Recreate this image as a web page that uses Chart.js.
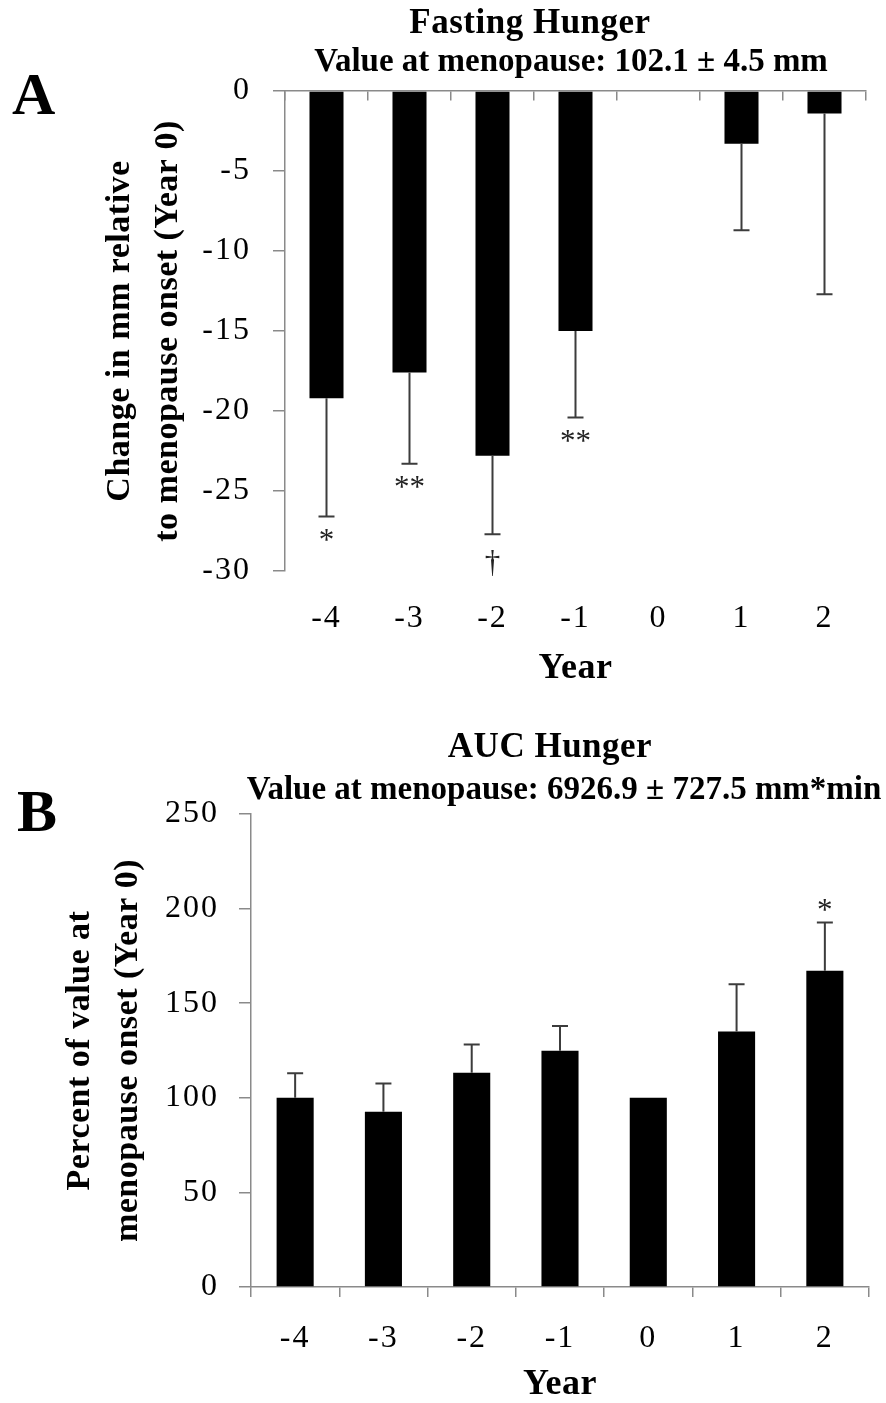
<!DOCTYPE html>
<html>
<head>
<meta charset="utf-8">
<title>Fasting Hunger / AUC Hunger</title>
<script src="https://cdn.jsdelivr.net/npm/chart.js@4.4.1/dist/chart.umd.min.js"></script>
<style>
    body { margin: 0; background: #fff; }
    #pagina { position: relative; width: 886px; height: 1403px; font-family: "Liberation Serif", "Times New Roman", serif; color: #000; }
    #pagina canvas { position: absolute; left: 0; }
    .texto { position: absolute; white-space: nowrap; font-weight: bold; }
    .titulo { font-size: 35px; line-height: 35px; letter-spacing: .5px; transform: translateX(-50%); }
    .subtitulo { font-size: 33px; line-height: 33px; transform: translateX(-50%); }
    .letra { font-size: 60px; line-height: 60px; }
</style>
</head>
<body>
<div id="pagina">
    <canvas id="graficaA" width="886" height="700" style="top:0"></canvas>
    <canvas id="graficaB" width="886" height="703" style="top:700px"></canvas>

    <div class="texto letra" style="left:12px; top:64px">A</div>
    <div class="texto titulo" style="left:530px; top:4px">Fasting Hunger</div>
    <div class="texto subtitulo" style="left:571px; top:44px">Value at menopause: 102.1 ± 4.5 mm</div>

    <div class="texto letra" style="left:17px; top:781px">B</div>
    <div class="texto titulo" style="left:550px; top:728px">AUC Hunger</div>
    <div class="texto subtitulo" style="left:564px; top:772px">Value at menopause: 6926.9 ± 727.5 mm*min</div>
</div>

<script>
/* 1. DATOS */
const years = ['-4', '-3', '-2', '-1', '0', '1', '2'];

// A: cambio en mm respecto al inicio de la menopausia
const hambreAyuno = [-19.2, -17.6, -22.8, -15.0, 0, -3.3, -1.4];
const errorAyuno = [7.4, 5.7, 4.9, 5.4, 0, 5.4, 11.3];
const marcasAyuno = ['*', '**', '†', '**', '', '', ''];
const ejeA = { min: -30, max: 0, paso: 5 };

// B: porcentaje del valor en el año 0
const hambreAUC = [100, 92.6, 113.2, 124.9, 100, 135, 167.2];
const errorAUC = [13, 15, 15, 13, 0, 25, 25.4];
const marcasAUC = ['', '', '', '', '', '', '*'];
const ejeB = { min: 0, max: 250, paso: 50 };

/* 2. ESTILOS COMUNES */
const FAMILIA = '"Liberation Serif", "Times New Roman", serif';
const GRIS = '#8a8a8a';
const fuenteTicks = { family: FAMILIA, size: 32, lineHeight: 1.2 };
const fuenteEje = { family: FAMILIA, size: 34, weight: 'bold', lineHeight: 1.41 };

// títulos de eje casi sin espaciado; los números del eje algo más abiertos
// (las etiquetas se pintan después de las barras porque ticks.z = 1)
const espaciado = {
    id: 'espaciado',
    beforeDraw(chart) { chart.ctx.letterSpacing = '0.5px'; },
    beforeDatasetsDraw(chart) { chart.ctx.letterSpacing = '0px'; },
    afterDatasetsDraw(chart) { chart.ctx.letterSpacing = '2px'; },
    afterDraw(chart) { chart.ctx.letterSpacing = '0px'; }
};

/* 3. BARRAS DE ERROR Y MARCAS DE SIGNIFICANCIA */
function barrasDeError(valores, errores, sentido, marcas) {
    return {
        id: 'barrasDeError',
        afterDatasetsDraw(chart) {
            const ctx = chart.ctx;
            const escalaY = chart.scales.y;
            const barras = chart.getDatasetMeta(0).data;
            ctx.save();
            ctx.letterSpacing = '0px';
            ctx.strokeStyle = '#3c3c3c';
            ctx.lineWidth = 2;
            ctx.fillStyle = '#222';
            ctx.font = '31px ' + FAMILIA;
            ctx.textAlign = 'center';
            barras.forEach((barra, i) => {
                const y0 = escalaY.getPixelForValue(valores[i]);
                const y1 = escalaY.getPixelForValue(valores[i] + sentido * errores[i]);
                if (errores[i] > 0) {
                    ctx.beginPath();
                    ctx.moveTo(barra.x, y0);
                    ctx.lineTo(barra.x, y1);
                    ctx.moveTo(barra.x - 8, y1);
                    ctx.lineTo(barra.x + 8, y1);
                    ctx.stroke();
                }
                if (marcas[i]) {
                    if (sentido < 0) {
                        ctx.textBaseline = 'top';
                        ctx.fillText(marcas[i], barra.x, y1 + (marcas[i] === '†' ? 14 : 10));
                    } else {
                        ctx.textBaseline = 'alphabetic';
                        ctx.fillText(marcas[i], barra.x, y1 - 3);
                    }
                }
            });
            ctx.restore();
        }
    };
}

/* 4. GRÁFICA A: eje de categorías pegado al 0, etiquetas abajo */
new Chart(document.getElementById('graficaA'), {
    type: 'bar',
    data: {
        labels: years,
        datasets: [{
            data: hambreAyuno,
            backgroundColor: '#000',
            borderWidth: 0,
            barPercentage: 0.41,
            categoryPercentage: 1,
            xAxisID: 'x',
            yAxisID: 'y'
        }]
    },
    options: {
        responsive: false,
        animation: false,
        layout: { padding: { top: 91, right: 20, bottom: 0, left: 0 } },
        plugins: { legend: { display: false }, tooltip: { enabled: false } },
        scales: {
            x: {
                type: 'category', axis: 'x', position: { y: 0 }, offset: true,
                grid: { offset: true, drawOnChartArea: false, drawTicks: true, tickLength: 9, color: GRIS, lineWidth: 1.5 },
                border: { display: true, color: GRIS, width: 1.5 },
                ticks: { display: false }
            },
            x2: {
                type: 'category', axis: 'x', position: 'bottom', offset: true,
                grid: { display: false, drawTicks: false },
                border: { display: false },
                ticks: { font: fuenteTicks, color: '#000', padding: 28, maxRotation: 0, autoSkip: false, z: 1 },
                title: { display: true, text: 'Year', color: '#000', font: { family: FAMILIA, size: 36, weight: 'bold', lineHeight: 1.2 }, padding: { top: 0, bottom: 10 } },
                afterFit: s => { s.height = 129; }
            },
            y: {
                position: 'left', min: ejeA.min, max: ejeA.max,
                ticks: { stepSize: ejeA.paso, font: fuenteTicks, color: '#000', padding: 22, z: 1 },
                grid: { drawOnChartArea: false, drawTicks: true, tickLength: 12, color: GRIS, lineWidth: 1.5 },
                border: { display: true, color: GRIS, width: 1.5 },
                title: { display: true, text: ['Change in mm relative', 'to menopause onset (Year 0)'], color: '#000', font: fuenteEje, padding: { top: 96, bottom: 0 } },
                afterFit: s => { s.width = 285; }
            }
        }
    },
    plugins: [espaciado, barrasDeError(hambreAyuno, errorAyuno, -1, marcasAyuno)]
});

/* 5. GRÁFICA B */
new Chart(document.getElementById('graficaB'), {
    type: 'bar',
    data: {
        labels: years,
        datasets: [{
            data: hambreAUC,
            backgroundColor: '#000',
            borderWidth: 0,
            barPercentage: 0.42,
            categoryPercentage: 1,
            xAxisID: 'x',
            yAxisID: 'y'
        }]
    },
    options: {
        responsive: false,
        animation: false,
        layout: { padding: { top: 114, right: 17, bottom: 0, left: 0 } },
        plugins: { legend: { display: false }, tooltip: { enabled: false } },
        scales: {
            x: {
                type: 'category', axis: 'x', position: 'bottom', offset: true,
                grid: { offset: true, drawOnChartArea: false, drawTicks: true, tickLength: 10, color: GRIS, lineWidth: 1.5 },
                border: { display: true, color: GRIS, width: 1.5 },
                ticks: { font: fuenteTicks, color: '#000', padding: 22, maxRotation: 0, autoSkip: false, z: 1 },
                title: { display: true, text: 'Year', color: '#000', font: { family: FAMILIA, size: 36, weight: 'bold', lineHeight: 1 }, padding: { top: 0, bottom: 0 } },
                afterFit: s => { s.height = 116; }
            },
            y: {
                position: 'left', min: ejeB.min, max: ejeB.max,
                ticks: { stepSize: ejeB.paso, font: fuenteTicks, color: '#000', padding: 20, z: 1 },
                grid: { drawOnChartArea: false, drawTicks: true, tickLength: 12, color: GRIS, lineWidth: 1.5 },
                border: { display: true, color: GRIS, width: 1.5 },
                title: { display: true, text: ['Percent of value at', 'menopause onset (Year 0)'], color: '#000', font: fuenteEje, padding: { top: 56, bottom: 0 } },
                afterFit: s => { s.width = 251; }
            }
        }
    },
    plugins: [espaciado, barrasDeError(hambreAUC, errorAUC, 1, marcasAUC)]
});
</script>
</body>
</html>
